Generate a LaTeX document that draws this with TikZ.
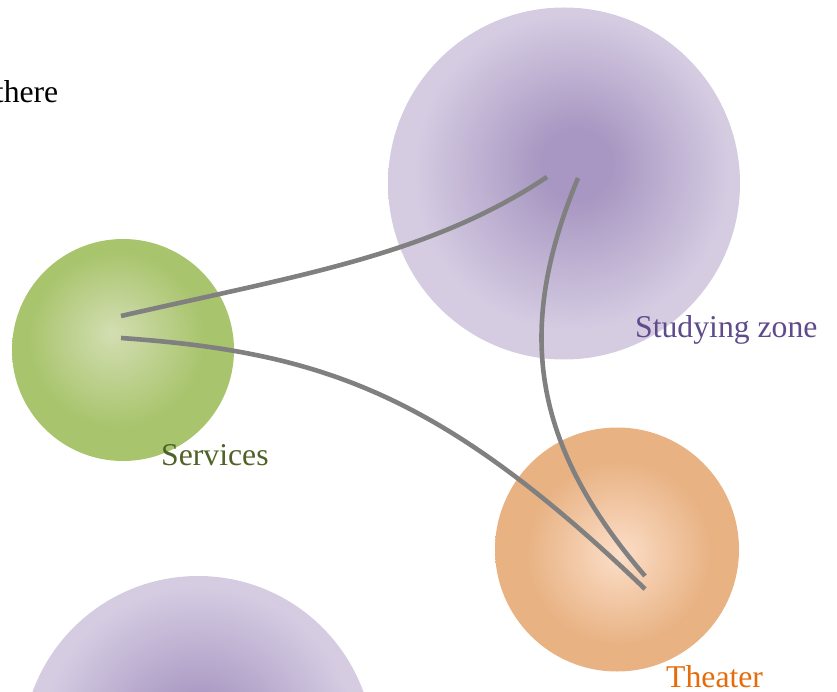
\documentclass[tikz,border=0pt]{standalone}
\usepackage{fontspec}
\setmainfont{Liberation Serif}
\definecolor{studyout}{HTML}{D5CCE2}
\definecolor{studyin}{HTML}{A897C2}
\definecolor{servout}{HTML}{A8C46C}
\definecolor{servin}{HTML}{D3DEB2}
\definecolor{theaout}{HTML}{E8B283}
\definecolor{theain}{HTML}{FCDEC8}
\definecolor{studytext}{HTML}{5F4B8B}
\definecolor{servtext}{HTML}{4F6228}
\definecolor{theatext}{HTML}{E46C0A}
\definecolor{linkgray}{HTML}{808080}
\pgfdeclareradialshading{studyshade}{\pgfpoint{2bp}{3bp}}{color(0bp)=(studyin); color(5bp)=(studyin); color(22.5bp)=(studyout); color(50bp)=(studyout)}
\pgfdeclareradialshading{servshade}{\pgfpoint{-2.5bp}{4bp}}{color(0bp)=(servin); color(20bp)=(servout); color(50bp)=(servout)}
\pgfdeclareradialshading{theashade}{\pgfpoint{0.5bp}{-1bp}}{color(0bp)=(theain); color(19bp)=(theaout); color(50bp)=(theaout)}
\pgfdeclareradialshading{bottomshade}{\pgfpoint{0bp}{2bp}}{color(0bp)=(studyin); color(5bp)=(studyin); color(22.5bp)=(studyout); color(50bp)=(studyout)}
\begin{document}
\begin{tikzpicture}[x=1pt,y=-1pt,
  zone/.style={circle, inner sep=0pt, draw=none},
  link/.style={draw=linkgray, line width=4.6pt},
  lbl/.style={inner sep=0pt, font=\fontsize{31.7}{36}\selectfont}]
\useasboundingbox (0,0) rectangle (837,692);
\node[zone, minimum size=352pt, shading=studyshade] (study) at (564,183.5) {};
\node[zone, minimum size=222pt, shading=servshade] (serv) at (123,350) {};
\node[zone, minimum size=244pt, shading=theashade] (thea) at (617,549.5) {};
\node[zone, minimum size=352pt, shading=bottomshade] (bottom) at (198,752) {};
\coordinate (s1) at (121,316);
\coordinate (s2) at (121,338);
\coordinate (z1) at (547,177);
\coordinate (z2) at (578,178);
\coordinate (t1) at (645,589);
\coordinate (t2) at (645,576);
\draw[link] (s1) .. controls (300,275) and (430,255) .. (z1);
\draw[link] (s2) .. controls (320,352) and (440,392) .. (t1);
\draw[link] (z2) .. controls (517,325) and (528,440) .. (t2);
\node[lbl, anchor=base east] (there) at (58.5,103) {there};
\node[lbl, anchor=base west, text=studytext] (studylbl) at (635,337) {Studying zone};
\node[lbl, anchor=base west, text=servtext] (servlbl) at (161,465) {Services};
\node[lbl, anchor=base west, text=theatext] (thealbl) at (666,687) {Theater};
\end{tikzpicture}
\end{document}
